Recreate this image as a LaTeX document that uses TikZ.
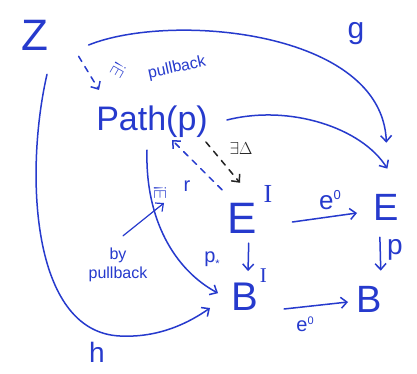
\documentclass[tikz,border=0pt]{standalone}
\usepackage{fontspec}
\setmainfont{Liberation Sans}
\newfontfamily\serI{Liberation Serif}
\usetikzlibrary{arrows.meta}
\definecolor{pen}{RGB}{38,58,205}
\definecolor{ink}{RGB}{35,35,35}
\begin{document}
\begin{tikzpicture}[x=1pt,y=-1pt,
  obj/.style={text=pen, inner sep=0pt},
  lbl/.style={text=pen, inner sep=0pt},
  arr/.style={draw=pen, line width=1.5pt, line cap=round,
    -{Straight Barb[length=6pt,width=11pt]}},
  darr/.style={arr, dash pattern=on 6pt off 6pt},
  karr/.style={darr, draw=ink}]
\useasboundingbox[fill=white] (0,0) rectangle (417,374);

% objects
\node[obj, font=\fontsize{44}{44}\selectfont] (Z) at (35,35) {Z};
\node[obj, font=\fontsize{34}{34}\selectfont] (P) at (152,122) {Path(p)};
\node[obj, anchor=base west, font=\fontsize{44}{44}\selectfont] (EI) at (227,233)
  {E\hspace{7pt}\raisebox{31pt}{\serI\fontsize{26}{26}\selectfont I}};
\node[obj, anchor=base west, font=\fontsize{38}{38}\selectfont] (E) at (373,220) {E};
\node[obj, anchor=base west, font=\fontsize{40}{40}\selectfont] (BI) at (231,310)
  {B\hspace{2pt}\raisebox{28pt}{\serI\fontsize{21}{21}\selectfont I}};
\node[obj, anchor=base west, font=\fontsize{38}{38}\selectfont] (B) at (356,312) {B};

% labels
\node[lbl, font=\fontsize{30}{30}\selectfont] (lg) at (356,34) {g};
\node[lbl, font=\fontsize{28}{28}\selectfont] (lh) at (97,352) {h};
\node[lbl, font=\fontsize{28}{28}\selectfont] (lp) at (395,250) {p};
\node[lbl, font=\fontsize{20}{20}\selectfont] (lps) at (212,260) {p\raisebox{-5pt}{\fontsize{11}{11}\selectfont *}};
\node[lbl, font=\fontsize{26}{26}\selectfont] (le1) at (330,200) {e\raisebox{10pt}{\fontsize{13}{13}\selectfont 0}};
\node[lbl, font=\fontsize{20}{20}\selectfont] (le2) at (305,324) {e\raisebox{7pt}{\fontsize{11}{11}\selectfont 0}};
\node[lbl, font=\fontsize{16}{16}\selectfont, rotate=12] (lpb) at (177,68) {pullback};
\node[lbl, font=\fontsize{16}{16}\selectfont, rotate=60] (lex1) at (118,70) {$\exists!$};
\node[lbl, font=\fontsize{16}{16}\selectfont, rotate=90] (lex2) at (160,193) {$\exists!$};
\node[lbl, font=\fontsize{20}{20}\selectfont] (lr) at (187,186) {r};
\node[lbl, text=ink, font=\fontsize{18}{18}\selectfont] (lD) at (241,148) {$\exists\Delta$};
\node[lbl, font=\fontsize{16}{19}\selectfont, align=center] (lby) at (118,265) {by\\pullback};

% connectors
\draw[arr] ([shift={(40,10)}]Z.east) .. controls (170,12) and (382,30) .. ([shift={(0.5,-51)}]E.north);
\draw[arr] ([shift={(19,-2)}]P.east) .. controls (290,104) and (362,128) .. ([shift={(1.5,-25)}]E.north);
\draw[arr] ([shift={(12,24)}]Z.south) .. controls (25,170) and (30,332) .. (120,336)
  .. controls (160,338) and (190,322) .. ([shift={(-21,-2)}]BI.base west);
\draw[arr] ([shift={(-5,12)}]P.south) .. controls (145,220) and (175,270) .. ([shift={(-13,4)}]BI.west);
\draw[darr] ([shift={(30,6)}]Z.south east) -- ([shift={(3,-16)}]P.north west);
\draw[karr] ([shift={(-2,4)}]P.south east) -- ([shift={(13,-2)}]EI.north west);
\draw[darr] ([shift={(-5,5)}]EI.north west) -- ([shift={(20,2)}]P.south);
\draw[arr] ([shift={(20,-11)}]EI.base east) -- ([shift={(-16,-7)}]E.base west);
\draw[arr] ([shift={(17,-1)}]BI.base east) -- ([shift={(-8,-10)}]B.base west);
\draw[arr] ([shift={(-6,17)}]E.south) -- ([shift={(-1,-15)}]B.north east);
\draw[arr] ([shift={(-1,10)}]EI.south) -- ([shift={(-1,3)}]BI.north);
\draw[arr, line width=1.2pt] ([shift={(5,-12)}]lby.north) -- ([shift={(4,10)}]lex2.center);
\end{tikzpicture}
\end{document}
